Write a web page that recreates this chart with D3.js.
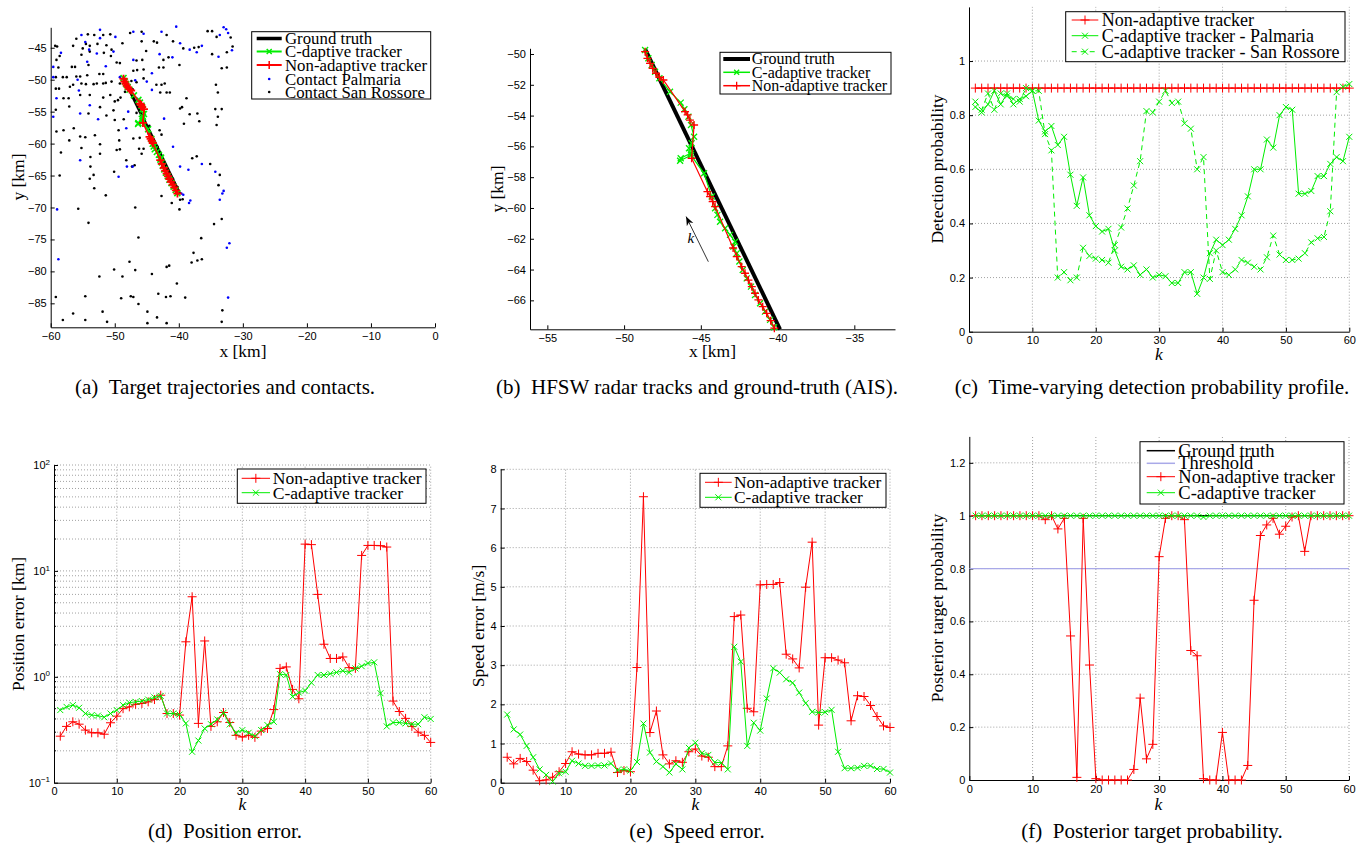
<!DOCTYPE html>
<html>
<head>
<meta charset="utf-8">
<script src="https://cdn.jsdelivr.net/npm/d3@7"></script>
<style>
  body { margin: 0; background: #fff; }
  svg { display: block; }
  .tick text { font-family: "Liberation Sans", Arial, sans-serif; font-size: 11px; fill: #000; }
  .lbl { font-family: "Liberation Serif", "Times New Roman", serif; fill: #000; }
</style>
</head>
<body>
<svg id="fig" width="1364" height="851"></svg>
<script>
// ---- data ----
const ks = d3.range(1, 61);

// (a) contacts [x km, y km]
const contactsPalmaria = [
  [-58.4,-45.8],[-55.2,-43.0],[-52.3,-42.2],[-49.9,-43.3],[-47.1,-42.5],[-45.5,-42.8],[-42.7,-42.5],[-40.4,-41.7],
  [-33.0,-41.8],[-32.6,-42.1],[-32.3,-42.7],[-33.6,-43.0],[-54.6,-44.1],[-52.3,-43.5],[-50.2,-45.6],[-39.8,-44.3],
  [-38.3,-45.3],[-36.4,-44.7],[-37.2,-45.7],[-33.8,-46.4],[-31.7,-45.4],[-43.0,-46.0],[-41.0,-46.5],[-47.1,-46.9],
  [-52.8,-45.9],[-54.0,-45.3],[-59.6,-48.0],[-54.3,-47.2],[-51.4,-47.9],[-44.2,-49.0],[-59.6,-49.6],[-55.8,-50.0],
  [-49.2,-49.6],[-46.8,-50.1],[-45.0,-50.3],[-55.6,-51.7],[-44.2,-51.6],[-59.1,-52.9],[-47.3,-52.0],[-53.9,-54.0],
  [-59.6,-55.8],[-55.4,-55.3],[-52.6,-56.2],[-47.9,-55.0],[-42.3,-56.1],[-48.2,-57.6],[-55.4,-62.6],[-49.4,-65.2],
  [-48.1,-63.6],[-47.2,-63.6],[-40.9,-60.5],[-39.8,-63.6],[-38.5,-64.1],[-36.4,-63.2],[-34.3,-64.4],[-33.0,-67.4],
  [-33.2,-67.8],[-33.6,-68.8],[-39.6,-67.8],[-39.3,-68.0],[-59.0,-70.3],[-38.4,-69.3],[-38.2,-68.9],[-58.8,-78.1],
  [-32.5,-76.3],[-32.1,-75.6],[-32.3,-84.1],[-44.7,-58.5],[-45.9,-54.5],[-46.5,-53.0]
];
const contactsSanRossore = [
  [-59.3,-44.7],[-59.0,-44.8],[-58.6,-46.3],[-54.2,-42.9],[-53.2,-43.0],[-51.8,-43.0],[-50.7,-42.9],[-47.6,-42.7],
  [-45.8,-42.5],[-41.9,-43.0],[-35.5,-42.4],[-34.8,-42.4],[-31.9,-43.4],[-34.1,-43.3],[-56.0,-43.6],[-54.5,-44.4],
  [-56.5,-44.7],[-55.0,-45.1],[-53.9,-44.7],[-52.7,-44.4],[-51.3,-44.6],[-50.5,-45.3],[-48.8,-44.3],[-45.8,-44.0],
  [-45.1,-45.5],[-43.9,-44.0],[-43.4,-44.2],[-40.9,-44.0],[-39.3,-45.1],[-37.6,-45.0],[-36.9,-44.9],[-34.8,-46.0],
  [-32.5,-45.7],[-31.6,-44.8],[-41.6,-46.5],[-42.4,-46.9],[-46.6,-47.0],[-45.7,-46.9],[-50.6,-46.3],[-51.7,-45.8],
  [-53.9,-45.6],[-55.2,-46.1],[-59.1,-46.9],[-58.8,-48.1],[-56.7,-48.0],[-56.2,-48.0],[-54.1,-47.7],[-49.7,-47.3],
  [-49.2,-47.4],[-46.5,-48.5],[-47.1,-48.6],[-45.5,-48.4],[-43.1,-48.1],[-42.4,-48.1],[-39.9,-47.7],[-33.3,-48.2],
  [-32.5,-48.1],[-59.2,-49.6],[-58.1,-49.6],[-57.5,-49.6],[-56.0,-49.5],[-55.4,-49.5],[-54.3,-49.3],[-52.4,-49.1],
  [-51.8,-49.1],[-47.4,-50.2],[-46.6,-50.4],[-45.5,-49.8],[-57.0,-51.1],[-56.5,-50.8],[-55.2,-50.6],[-54.5,-50.7],
  [-53.3,-50.7],[-52.8,-50.6],[-51.8,-50.6],[-51.4,-50.5],[-50.5,-50.3],[-49.2,-50.6],[-59.2,-51.4],[-58.7,-51.4],
  [-43.5,-50.8],[-42.7,-50.8],[-42.2,-50.6],[-42.9,-52.0],[-41.9,-52.0],[-41.4,-52.0],[-34.2,-50.8],[-33.9,-52.0],
  [-58.0,-52.9],[-57.2,-52.9],[-55.4,-52.4],[-53.9,-52.4],[-51.8,-52.8],[-50.7,-52.4],[-50.0,-53.4],[-49.5,-53.2],
  [-49.1,-52.8],[-48.4,-51.9],[-52.3,-54.3],[-50.2,-54.8],[-57.1,-54.2],[-59.2,-54.7],[-54.1,-55.3],[-51.3,-55.6],
  [-50.0,-56.3],[-48.6,-56.2],[-46.6,-55.2],[-46.1,-54.9],[-39.8,-54.5],[-39.5,-54.3],[-38.8,-52.9],[-34.3,-54.6],
  [-33.3,-54.6],[-38.3,-55.4],[-37.1,-55.3],[-36.8,-56.5],[-39.2,-56.9],[-33.9,-55.8],[-34.1,-57.1],[-59.1,-58.1],
  [-58.0,-57.9],[-56.4,-57.6],[-57.1,-59.5],[-55.4,-58.9],[-54.6,-59.0],[-53.1,-58.7],[-52.3,-60.1],[-49.4,-57.9],
  [-49.3,-59.5],[-47.1,-59.2],[-46.1,-59.1],[-58.4,-61.4],[-55.2,-60.7],[-53.8,-62.1],[-53.8,-63.6],[-52.3,-61.6],
  [-49.7,-61.0],[-49.2,-60.9],[-50.1,-64.4],[-48.2,-62.6],[-47.3,-63.6],[-46.9,-63.4],[-45.8,-61.6],[-46.2,-60.8],
  [-45.5,-60.8],[-43.0,-57.9],[-42.7,-58.6],[-37.9,-62.3],[-37.2,-62.0],[-35.1,-63.2],[-33.6,-64.9],[-33.8,-66.5],
  [-53.3,-64.9],[-53.9,-65.5],[-51.4,-68.1],[-53.2,-67.0],[-58.6,-65.0],[-39.8,-68.8],[-39.4,-68.7],[-41.1,-69.3],
  [-42.7,-68.2],[-55.7,-70.2],[-54.1,-72.4],[-46.8,-70.0],[-39.9,-70.3],[-47.7,-78.5],[-46.8,-79.8],[-44.2,-80.4],
  [-50.1,-79.7],[-48.8,-80.8],[-52.4,-80.8],[-47.1,-84.0],[-47.5,-83.9],[-46.3,-85.1],[-44.9,-86.3],[-43.4,-87.2],
  [-43.2,-83.5],[-42.0,-84.0],[-41.3,-83.9],[-41.9,-79.3],[-41.5,-79.1],[-40.3,-81.9],[-39.0,-84.1],[-41.9,-88.1],
  [-44.9,-88.1],[-51.2,-87.9],[-51.9,-86.3],[-54.6,-87.6],[-56.5,-86.6],[-58.1,-87.6],[-59.2,-84.0],[-54.6,-83.9],
  [-49.0,-84.2],[-36.5,-74.8],[-34.5,-72.6],[-33.3,-71.8],[-37.7,-77.1],[-38.0,-78.6],[-37.1,-78.3],[-36.4,-78.1],
  [-33.2,-86.1],[-33.3,-87.9],[-46.3,-74.7],[-47.2,-51.5],[-46.4,-53.2],[-44.6,-57.2],[-43.3,-60.5],[-41.8,-64.0],
  [-40.9,-65.5],[-40.2,-66.8],[-40.0,-67.5]
];

// (a)/(b) tracks [x km, y km]
const groundTruthTrack = [[-48.63,-49.69],[-39.84,-67.88]];
const cAdaptiveTrack = [
  [-48.63,-49.74],[-48.42,-50.28],[-48.2,-50.71],[-47.98,-51.15],[-47.7,-51.58],[-47.01,-52.45],[-46.31,-53.16],
  [-46.07,-53.59],[-45.81,-54.07],[-45.64,-54.61],[-45.44,-55.37],[-45.6,-55.8],[-45.77,-56.12],[-45.66,-56.45],
  [-46.31,-56.77],[-46.35,-56.93],[-45.64,-56.58],[-44.79,-57.75],[-44.29,-59.26],[-44.07,-60.02],[-43.92,-60.45],
  [-43.75,-60.89],[-43.42,-61.32],[-43.1,-61.75],[-42.77,-62.19],[-42.88,-62.51],[-42.66,-62.94],[-42.49,-63.48],
  [-42.27,-64.03],[-42.01,-64.57],[-41.73,-65.11],[-41.47,-65.65],[-41.14,-66.19],[-40.82,-66.73],[-40.49,-67.27],
  [-40.23,-67.75]
];
const nonAdaptiveTrack = [
  [-48.63,-49.85],[-48.48,-50.28],[-48.31,-50.61],[-48.14,-50.93],[-47.92,-51.25],[-47.7,-51.51],[-47.44,-51.69],
  [-46.03,-53.74],[-45.86,-53.96],[-45.71,-54.29],[-45.44,-54.61],[-45.6,-56.77],[-44.57,-58.94],[-44.4,-59.26],
  [-44.23,-59.59],[-44.07,-59.91],[-42.9,-62.6],[-42.66,-63.16],[-42.34,-63.81],[-42.12,-64.24],[-41.9,-64.68],
  [-41.68,-65.11],[-41.47,-65.54],[-41.25,-65.97],[-40.97,-66.41],[-40.71,-66.84],[-40.45,-67.32],[-40.21,-67.81]
];
const kArrow = [[-44.51,-63.49],[-45.96,-60.56]];
const kArrowLabel = [-45.65,-62.3];

// (c) detection probability
const detNonAdaptive = [0.9,0.9,0.9,0.9,0.9,0.9,0.9,0.9,0.9,0.9,0.9,0.9,0.9,0.9,0.9,0.9,0.9,0.9,0.9,0.9,
  0.9,0.9,0.9,0.9,0.9,0.9,0.9,0.9,0.9,0.9,0.9,0.9,0.9,0.9,0.9,0.9,0.9,0.9,0.9,0.9,
  0.9,0.9,0.9,0.9,0.9,0.9,0.9,0.9,0.9,0.9,0.9,0.9,0.9,0.9,0.9,0.9,0.9,0.9,0.9,0.9];
const detPalmaria = [0.83,0.81,0.84,0.89,0.84,0.88,0.84,0.86,0.87,0.89, 0.78,0.74,0.76,0.69,0.72,0.58,0.465,0.57,0.43,0.39,
  0.37,0.38,0.30,0.24,0.23,0.245,0.21,0.23,0.20,0.21, 0.205,0.18,0.18,0.22,0.22,0.14,0.20,0.29,0.34,0.32,
  0.34,0.38,0.43,0.50,0.60,0.60,0.71,0.68,0.80,0.83, 0.82,0.51,0.51,0.52,0.575,0.575,0.62,0.645,0.63,0.72];
const detSanRossore = [0.85,0.82,0.88,0.82,0.88,0.87,0.86,0.85,0.90,0.89, 0.89,0.73,0.67,0.20,0.22,0.19,0.20,0.31,0.28,0.27,
  0.265,0.255,0.32,0.385,0.455,0.54,0.63,0.815,0.81,0.85, 0.89,0.845,0.85,0.77,0.75,0.60,0.645,0.195,0.30,0.22,
  0.21,0.23,0.265,0.255,0.24,0.23,0.275,0.355,0.285,0.265, 0.265,0.27,0.29,0.33,0.345,0.35,0.445,0.885,0.905,0.915];

// (d) position error [km]
const posNonAdaptive = [0.275,0.34,0.376,0.357,0.314,0.296,0.296,0.287,0.368,0.425, 0.50,0.52,0.55,0.56,0.58,0.61,0.67,0.45,0.45,0.435,
  2.14,5.7,0.363,2.18,0.34,0.376,0.46,0.37,0.28,0.27, 0.28,0.268,0.307,0.325,0.49,1.2,1.24,0.76,0.62,17.9,
  17.7,6.0,2.03,1.49,1.49,1.54,1.22,1.2,14.0,17.4, 17.4,17.3,16.8,0.59,0.47,0.405,0.34,0.30,0.28,0.24];
const posCAdaptive = [0.485,0.52,0.54,0.51,0.45,0.435,0.43,0.415,0.45,0.485, 0.54,0.57,0.58,0.59,0.61,0.64,0.66,0.45,0.45,0.44,
  0.363,0.196,0.25,0.325,0.357,0.396,0.457,0.355,0.296,0.314, 0.296,0.275,0.314,0.35,0.376,1.06,1.04,0.65,0.71,0.74,
  0.88,1.04,1.04,1.07,1.1,1.14,1.1,1.2,1.26,1.34, 1.37,0.70,0.34,0.37,0.37,0.363,0.357,0.357,0.415,0.40];

// (e) speed error [m/s]
const speedNonAdaptive = [0.65,0.48,0.62,0.54,0.32,0.05,0.07,0.14,0.28,0.49, 0.79,0.73,0.71,0.71,0.75,0.75,0.78,0.26,0.31,0.28,
  2.94,7.3,1.28,1.83,0.71,0.48,0.56,0.52,0.79,0.86, 0.68,0.65,0.41,0.41,0.94,4.24,4.28,1.9,1.81,5.05,
  5.06,5.06,5.11,3.28,3.16,2.93,4.99,6.14,1.47,3.19, 3.19,3.13,3.06,1.58,2.22,2.2,1.97,1.69,1.45,1.41];
const speedCAdaptive = [1.74,1.36,1.23,0.94,0.65,0.34,0.2,0.03,0.24,0.28, 0.56,0.49,0.43,0.43,0.44,0.44,0.49,0.32,0.34,0.31,
  0.53,1.51,0.77,0.54,0.41,0.26,0.48,0.34,0.89,1.02, 0.75,0.71,0.52,0.51,0.34,3.47,3.09,0.94,1.53,1.33,
  2.15,2.92,2.81,2.64,2.55,2.3,2.03,1.81,1.79,1.8, 1.86,0.79,0.37,0.37,0.38,0.43,0.43,0.35,0.35,0.26];

// (f) posterior target probability
const postGroundTruth = [1,1,1,1,1,1,1,1,1,1,1,1,1,1,1,1,1,1,1,1,1,1,1,1,1,1,1,1,1,1,
  1,1,1,1,1,1,1,1,1,1,1,1,1,1,1,1,1,1,1,1,1,1,1,1,1,1,1,1,1,1];
const postThreshold = [0.8,0.8];
const postNonAdaptive = [1,1,1,1,1,1,1,1,1,1, 1,0.985,1,0.95,0.99,0.545,0.01,0.99,0.435,0.005,
  0,0,0,0,0,0.04,0.31,0.08,0.135,0.845, 0.99,1,1,0.985,0.49,0.47,0.005,0,0,0.18,
  0,0,0,0.055,0.68,0.925,0.965,0.99,0.93,0.96, 0.995,1,0.865,1,1,1,1,1,1,1];
const postCAdaptive = [1,1,1,1,1,1,1,1,1,1,1,1,1,1,1,1,1,1,1,1,1,1,1,1,1,1,1,1,1,1,
  1,1,1,1,1,1,0.995,1,1,1,1,1,1,1,1,1,1,1,1,1,1,1,1,1,1,1,1,1,1,1];

// tick labels
const kTicks = [0, 10, 20, 30, 40, 50, 60];
const aXTicks = [-60, -50, -40, -30, -20, -10, 0];
const aYTicks = [-85, -80, -75, -70, -65, -60, -55, -50, -45];
const bXTicks = [-55, -50, -45, -40, -35];
const bYTicks = [-66, -64, -62, -60, -58, -56, -54, -52, -50];
const probTicks = [0, 0.2, 0.4, 0.6, 0.8, 1];
const postTicks = [0, 0.2, 0.4, 0.6, 0.8, 1, 1.2];
const logTicks = [0.1, 1, 10, 100];
const logMinor = [0.2,0.3,0.4,0.5,0.6,0.7,0.8,0.9,2,3,4,5,6,7,8,9,20,30,40,50,60,70,80,90];
const speedTicks = [0, 1, 2, 3, 4, 5, 6, 7, 8];

const captions = [
  "(a)\u2002Target trajectories and contacts.",
  "(b)\u2002HFSW radar tracks and ground-truth (AIS).",
  "(c)\u2002Time-varying detection probability profile.",
  "(d)\u2002Position error.",
  "(e)\u2002Speed error.",
  "(f)\u2002Posterior target probability."
];

const RED = "#ff0000", GREEN = "#00ee00", BLUE = "#0000ff";

// ---- helpers ----
const svg = d3.select("#fig");
const series = vals => vals.map((v, i) => [ks[i], v]);

function markerPath(type, pts, x, y, s) {
  return pts.map(p => {
    const cx = x(p[0]), cy = y(p[1]);
    if (type === "plus") return `M${cx - s},${cy}H${cx + s}M${cx},${cy - s}V${cy + s}`;
    return `M${cx - s},${cy - s}L${cx + s},${cy + s}M${cx - s},${cy + s}L${cx + s},${cy - s}`;
  }).join("");
}

function plotLine(g, pts, x, y, color, o) {
  g.append("path")
    .attr("d", d3.line().x(d => x(d[0])).y(d => y(d[1]))(pts))
    .attr("fill", "none").attr("stroke", color)
    .attr("stroke-width", o.w || 1)
    .attr("stroke-dasharray", o.dash || null);
  if (o.marker) {
    g.append("path")
      .attr("d", markerPath(o.marker, pts, x, y, o.size || 3.5))
      .attr("fill", "none").attr("stroke", color).attr("stroke-width", o.mw || 1);
  }
}

function axes(g, x, y, o) {
  const [y0, y1] = y.range(), [x0] = x.range();
  if (o.grid) {
    const gg = g.append("g").attr("stroke", "#8a8a8a").attr("stroke-width", 0.8).attr("stroke-dasharray", "1,2");
    gg.append("g").selectAll("line").data(o.xTicks.filter(t => x(t) > x0 + 1)).join("line")
      .attr("x1", d => x(d)).attr("x2", d => x(d)).attr("y1", y0).attr("y2", y1);
    gg.append("g").selectAll("line").data((o.yGrid || o.yTicks).filter(t => y(t) < y0 - 1)).join("line")
      .attr("x1", x.range()[0]).attr("x2", x.range()[1]).attr("y1", d => y(d)).attr("y2", d => y(d));
  }
  g.append("g").attr("transform", `translate(0,${y0})`)
    .call(d3.axisBottom(x).tickValues(o.xTicks).tickSize(-4).tickSizeOuter(0).tickPadding(5)
      .tickFormat(o.xFmt || d3.format("")));
  const ya = g.append("g").attr("transform", `translate(${x0},0)`)
    .call(d3.axisLeft(y).tickValues(o.yTicks).tickSize(-4).tickSizeOuter(0).tickPadding(4)
      .tickFormat(o.yFmt || d3.format("")));
  if (o.log) {
    ya.selectAll(".tick text").each(function (d) {
      const t = d3.select(this).text("10");
      t.append("tspan").attr("dy", "-0.55em").attr("font-size", "8px")
        .text(String(Math.round(Math.log10(d))).replace("-", "\u2212"));
    });
  }
  if (o.minor) {
    g.append("g").attr("stroke", "#000").selectAll("line").data(o.minor).join("line")
      .attr("x1", x0).attr("x2", x0 + 2).attr("y1", d => y(d)).attr("y2", d => y(d));
  }
  g.selectAll(".domain").attr("stroke", "#000");
}

function axisLabels(g, xl, xlPos, yl, ylPos, italicX) {
  g.append("text").attr("class", "lbl").attr("x", xlPos[0]).attr("y", xlPos[1])
    .attr("text-anchor", "middle").attr("font-size", 17.5)
    .attr("font-style", italicX ? "italic" : null).text(xl);
  g.append("text").attr("class", "lbl").attr("text-anchor", "middle").attr("font-size", 17.5)
    .attr("transform", `translate(${ylPos[0]},${ylPos[1]}) rotate(-90)`).text(yl);
}

function legend(g, box, rows, entries, fs, sx, tx) {
  g.append("rect").attr("x", box[0]).attr("y", box[1]).attr("width", box[2] - box[0]).attr("height", box[3] - box[1])
    .attr("fill", "#fff").attr("stroke", "#000").attr("stroke-width", 1);
  entries.forEach((e, i) => {
    const cy = rows[i], cx = (sx[0] + sx[1]) / 2;
    if (e.line) {
      g.append("line").attr("x1", sx[0]).attr("x2", sx[1]).attr("y1", cy).attr("y2", cy)
        .attr("stroke", e.color).attr("stroke-width", e.w || 1).attr("stroke-dasharray", e.dash || null);
    }
    if (e.marker) {
      const s = e.size || 3.5;
      const d = e.marker === "plus" ? `M${cx - s},${cy}H${cx + s}M${cx},${cy - s}V${cy + s}`
        : `M${cx - s},${cy - s}L${cx + s},${cy + s}M${cx - s},${cy + s}L${cx + s},${cy - s}`;
      g.append("path").attr("d", d).attr("stroke", e.color).attr("fill", "none").attr("stroke-width", e.mw || 1);
    }
    if (e.dot) g.append("circle").attr("cx", cx).attr("cy", cy).attr("r", 1.3).attr("fill", e.color);
    g.append("text").attr("class", "lbl").attr("x", tx).attr("y", cy + fs * 0.33)
      .attr("font-size", fs).text(e.label);
  });
}

// ---- (a) ----
{
  const g = svg.append("g");
  const x = d3.scaleLinear([-60, 0], [50.7, 435]);
  const y = d3.scaleLinear([-88.75, -41.8], [327.3, 27.3]);
  axes(g, x, y, { xTicks: aXTicks, yTicks: aYTicks });
  g.append("g").selectAll("circle").data(contactsSanRossore).join("circle")
    .attr("cx", d => x(d[0])).attr("cy", d => y(d[1])).attr("r", 1.3).attr("fill", "#000");
  g.append("g").selectAll("circle").data(contactsPalmaria).join("circle")
    .attr("cx", d => x(d[0])).attr("cy", d => y(d[1])).attr("r", 1.3).attr("fill", BLUE);
  plotLine(g, groundTruthTrack, x, y, "#000", { w: 3 });
  plotLine(g, cAdaptiveTrack, x, y, GREEN, { w: 1.5, marker: "cross", size: 3, mw: 1.6 });
  plotLine(g, nonAdaptiveTrack, x, y, RED, { w: 1.5, marker: "plus", size: 4, mw: 1.8 });
  axisLabels(g, "x [km]", [243, 357], "y [km]", [24, 177]);
  legend(g, [251.7, 31.7, 430.7, 99], [38.5, 51.5, 65, 79, 92], [
    { label: "Ground truth", line: true, color: "#000", w: 3.5 },
    { label: "C-daptive tracker", line: true, color: GREEN, w: 2, marker: "cross", size: 2.5, mw: 1.5 },
    { label: "Non-adaptive tracker", line: true, color: RED, w: 2, marker: "plus", size: 4, mw: 1.5 },
    { label: "Contact Palmaria", dot: true, color: BLUE },
    { label: "Contact San Rossore", dot: true, color: "#000" }
  ], 16.8, [256.7, 281.7], 285);
}

// ---- (b) ----
{
  const g = svg.append("g");
  const x = d3.scaleLinear([-56.13, -32.35], [530, 895]);
  const y = d3.scaleLinear([-67.88, -49.63], [329.3, 48.3]);
  axes(g, x, y, { xTicks: bXTicks, yTicks: bYTicks });
  plotLine(g, groundTruthTrack, x, y, "#000", { w: 4 });
  plotLine(g, cAdaptiveTrack, x, y, GREEN, { w: 1.2, marker: "cross", size: 3, mw: 1.3 });
  plotLine(g, nonAdaptiveTrack, x, y, RED, { w: 1.2, marker: "plus", size: 4, mw: 1.3 });
  svg.append("defs").append("marker").attr("id", "arrowK").attr("viewBox", "0 0 10 10")
    .attr("refX", 10).attr("refY", 5).attr("markerWidth", 9).attr("markerHeight", 9)
    .attr("markerUnits", "userSpaceOnUse").attr("orient", "auto")
    .append("path").attr("d", "M0,1L10,5L0,9L3,5Z").attr("fill", "#000");
  g.append("line").attr("x1", x(kArrow[0][0])).attr("y1", y(kArrow[0][1]))
    .attr("x2", x(kArrow[1][0])).attr("y2", y(kArrow[1][1]))
    .attr("stroke", "#000").attr("stroke-width", 0.8).attr("marker-end", "url(#arrowK)");
  g.append("text").attr("class", "lbl").attr("font-style", "italic").attr("font-size", 15)
    .attr("x", x(kArrowLabel[0])).attr("y", y(kArrowLabel[1])).attr("text-anchor", "middle").text("k");
  axisLabels(g, "x [km]", [712.5, 357], "y [km]", [503, 189]);
  legend(g, [720, 52.3, 891, 94], [59, 72.3, 85.7], [
    { label: "Ground truth", line: true, color: "#000", w: 4 },
    { label: "C-adaptive tracker", line: true, color: GREEN, w: 1.5, marker: "cross", size: 2.5, mw: 1.3 },
    { label: "Non-adaptive tracker", line: true, color: RED, w: 1.5, marker: "plus", size: 4, mw: 1.3 }
  ], 16, [723.3, 750], 751.7);
}

// ---- (c) ----
{
  const g = svg.append("g");
  const x = d3.scaleLinear([0, 60], [969, 1349.3]);
  const y = d3.scaleLinear([0, 1.2], [331.7, 6.9]);
  axes(g, x, y, { xTicks: kTicks, yTicks: probTicks, grid: true });
  plotLine(g, series(detNonAdaptive), x, y, RED, { w: 1.2, marker: "plus", size: 4.5 });
  plotLine(g, series(detSanRossore), x, y, GREEN, { w: 1, dash: "5,4", marker: "cross", size: 3 });
  plotLine(g, series(detPalmaria), x, y, GREEN, { w: 1, marker: "cross", size: 3 });
  axisLabels(g, "k", [1159, 360], "Detection probability", [943, 169], true);
  legend(g, [1065.7, 11.7, 1345, 61.7], [20, 35.7, 51.7], [
    { label: "Non-adaptive tracker", line: true, color: RED, marker: "plus", size: 4.5 },
    { label: "C-adaptive tracker - Palmaria", line: true, color: GREEN, marker: "cross", size: 3 },
    { label: "C-adaptive tracker - San Rossore", line: true, color: GREEN, dash: "5,4", marker: "cross", size: 3 }
  ], 18, [1071.7, 1098.3], 1101.7);
}

// ---- (d) ----
{
  const g = svg.append("g");
  const x = d3.scaleLinear([0, 60], [54, 430.7]);
  const y = d3.scaleLog([0.1, 100], [782.7, 465]);
  axes(g, x, y, { xTicks: kTicks, yTicks: logTicks, yGrid: logTicks.concat(logMinor), grid: true, log: true, minor: logMinor });
  plotLine(g, series(posNonAdaptive), x, y, RED, { w: 1, marker: "plus", size: 4.5 });
  plotLine(g, series(posCAdaptive), x, y, GREEN, { w: 1, marker: "cross", size: 3 });
  axisLabels(g, "k", [242.3, 810], "Position error [km]", [24, 624], true);
  legend(g, [237.3, 469, 426, 503.3], [478.3, 492.7], [
    { label: "Non-adaptive tracker", line: true, color: RED, marker: "plus", size: 4.5 },
    { label: "C-adaptive tracker", line: true, color: GREEN, marker: "cross", size: 3 }
  ], 17.6, [241.7, 270], 272.7);
}

// ---- (e) ----
{
  const g = svg.append("g");
  const x = d3.scaleLinear([0, 60], [500.7, 890]);
  const y = d3.scaleLinear([0, 8], [782.7, 469.3]);
  axes(g, x, y, { xTicks: kTicks, yTicks: speedTicks, grid: true });
  plotLine(g, series(speedNonAdaptive), x, y, RED, { w: 1, marker: "plus", size: 4.5 });
  plotLine(g, series(speedCAdaptive), x, y, GREEN, { w: 1, marker: "cross", size: 3 });
  axisLabels(g, "k", [695.3, 810], "Speed error [m/s]", [484, 626], true);
  legend(g, [700, 473.3, 886, 507.3], [482.3, 497.3], [
    { label: "Non-adaptive tracker", line: true, color: RED, marker: "plus", size: 4.5 },
    { label: "C-adaptive tracker", line: true, color: GREEN, marker: "cross", size: 3 }
  ], 17.4, [705, 731.7], 734);
}

// ---- (f) ----
{
  const g = svg.append("g");
  const x = d3.scaleLinear([0, 60], [969.3, 1349]);
  const y = d3.scaleLinear([0, 1.3], [780, 436.4]);
  axes(g, x, y, { xTicks: kTicks, yTicks: postTicks, grid: true });
  plotLine(g, series(postGroundTruth), x, y, "#000", { w: 1.2 });
  plotLine(g, [[0, postThreshold[0]], [60, postThreshold[1]]], x, y, "#a9a9e8", { w: 1.2 });
  plotLine(g, series(postNonAdaptive), x, y, RED, { w: 1, marker: "plus", size: 4.5 });
  plotLine(g, series(postCAdaptive), x, y, GREEN, { w: 1, marker: "cross", size: 3 });
  axisLabels(g, "k", [1158.3, 810], "Posterior target probability", [943, 608], true);
  legend(g, [1140, 441.7, 1344, 504], [450.7, 463.3, 476.7, 492.7], [
    { label: "Ground truth", line: true, color: "#000", w: 1.5 },
    { label: "Threshold", line: true, color: "#a9a9e8", w: 1.5 },
    { label: "Non-adaptive tracker", line: true, color: RED, marker: "plus", size: 4.5 },
    { label: "C-adaptive tracker", line: true, color: GREEN, marker: "cross", size: 3 }
  ], 18.5, [1146.7, 1175], 1178.3);
}

// ---- captions ----
const capPos = [[225, 394], [697, 394], [1152, 394], [225, 838], [697, 838], [1152, 838]];
svg.selectAll("text.cap").data(captions).join("text")
  .attr("class", "lbl cap").attr("font-size", 21).attr("text-anchor", "middle")
  .attr("x", (d, i) => capPos[i][0]).attr("y", (d, i) => capPos[i][1]).text(d => d);
</script>
</body>
</html>
